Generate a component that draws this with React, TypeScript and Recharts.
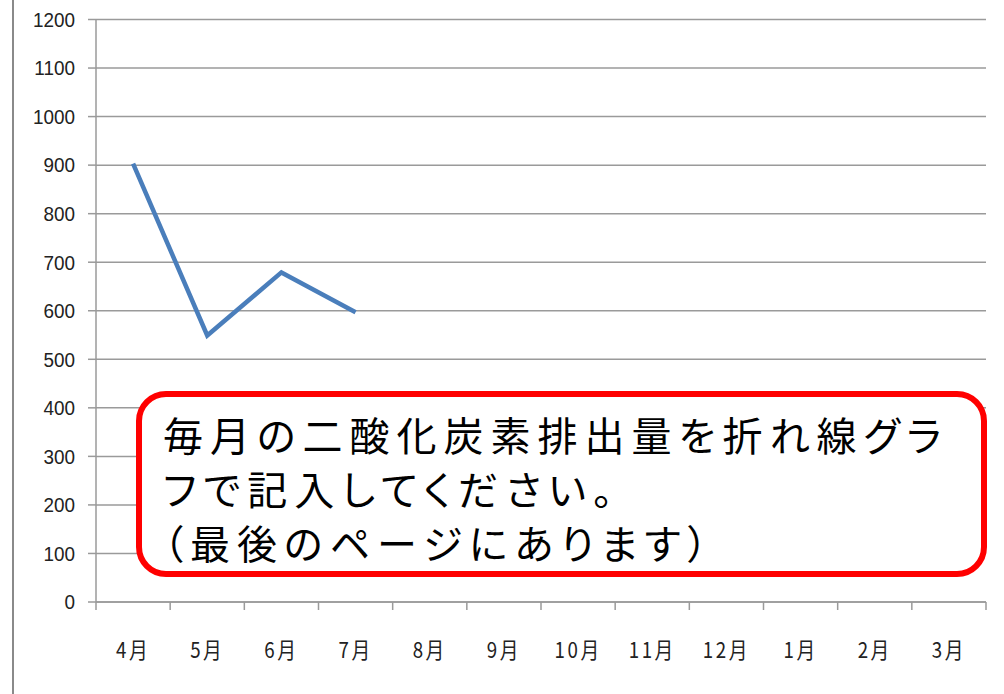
import React from 'react';
import { LineChart, Line, XAxis, YAxis, CartesianGrid } from 'recharts';

const months = ['4月', '5月', '6月', '7月', '8月', '9月', '10月', '11月', '12月', '1月', '2月', '3月'];
const emissions: (number | null)[] = [903, 549, 679, 597, null, null, null, null, null, null, null, null];
const yTicks = [0, 100, 200, 300, 400, 500, 600, 700, 800, 900, 1000, 1100, 1200];
const noteLines = ['毎月の二酸化炭素排出量を折れ線グラ', 'フで記入してください。', '（最後のページにあります）'];

const data = months.map((m, i) => ({ month: m, value: emissions[i] }));

const AXIS = '#9a9a9a';

const XTick = (props: any) => {
  const { x, y, payload, index, visibleTicksCount } = props;
  const half = payload && typeof payload.offset === 'number' && payload.offset > 0 ? payload.offset : 37.08;
  const isLast = index === visibleTicksCount - 1;
  return (
    <g>
      <line x1={x - half} x2={x - half} y1={y - 8} y2={y} stroke={AXIS} strokeWidth={1.5} />
      {isLast && <line x1={x + half} x2={x + half} y1={y - 8} y2={y} stroke={AXIS} strokeWidth={1.5} />}
      <text
        transform={`translate(${x},${y + 38}) scale(0.85,1)`}
        textAnchor="middle"
        dominantBaseline="central"
        fontSize={22}
        letterSpacing={3}
        fill="#222"
        fontFamily="'Noto Sans CJK JP', sans-serif"
      >
        {payload.value}
      </text>
    </g>
  );
};

const YTick = (props: any) => {
  const { x, y, payload } = props;
  return (
    <text
      transform={`translate(${x},${y}) scale(0.9,1)`}
      textAnchor="end"
      dominantBaseline="central"
      fontSize={21}
      fill="#222"
      fontFamily="'Liberation Sans', sans-serif"
    >
      {payload.value}
    </text>
  );
};

export default function App() {
  return (
    <div style={{ position: 'absolute', left: 0, top: 0, width: 1004, height: 694, background: '#fff', overflow: 'hidden' }}>
      <div style={{ position: 'absolute', left: 12, top: 0, width: 1.5, height: 694, background: '#8a8a8a' }} />
      <LineChart width={1004} height={694} data={data} margin={{ top: 19.5, right: 18, bottom: 62, left: 0 }}>
        <CartesianGrid vertical={false} stroke={AXIS} strokeWidth={1.5} />
        <XAxis
          dataKey="month"
          scale="band"
          interval={0}
          axisLine={{ stroke: AXIS, strokeWidth: 1.5 }}
          tickLine={false}
          tickSize={8}
          tickMargin={0}
          height={30}
          tick={<XTick />}
        />
        <YAxis
          width={96}
          domain={[0, 1200]}
          ticks={yTicks}
          interval={0}
          axisLine={{ stroke: AXIS, strokeWidth: 1.5 }}
          tickLine={{ stroke: AXIS, strokeWidth: 1.5 }}
          tickSize={8}
          tickMargin={13}
          tick={<YTick />}
        />
        <Line
          type="linear"
          dataKey="value"
          stroke="#4a7ebb"
          strokeWidth={4.5}
          dot={false}
          activeDot={false}
          connectNulls={false}
          isAnimationActive={false}
        />
      </LineChart>
      <div
        style={{
          position: 'absolute',
          left: 136,
          top: 391,
          width: 851,
          height: 186,
          boxSizing: 'border-box',
          border: '6px solid #ff0000',
          borderRadius: 30,
          background: '#fff',
          paddingLeft: 21,
          paddingTop: 10,
          fontFamily: "'Noto Sans CJK JP', sans-serif",
          fontSize: 40,
          fontWeight: 400,
          lineHeight: '54px',
          letterSpacing: 7,
          color: '#000',
          fontFeatureSettings: '"palt"',
        }}
      >
        {noteLines.map((l, i) => (
          <div key={i} style={{ whiteSpace: 'nowrap' }}>{l}</div>
        ))}
      </div>
    </div>
  );
}
